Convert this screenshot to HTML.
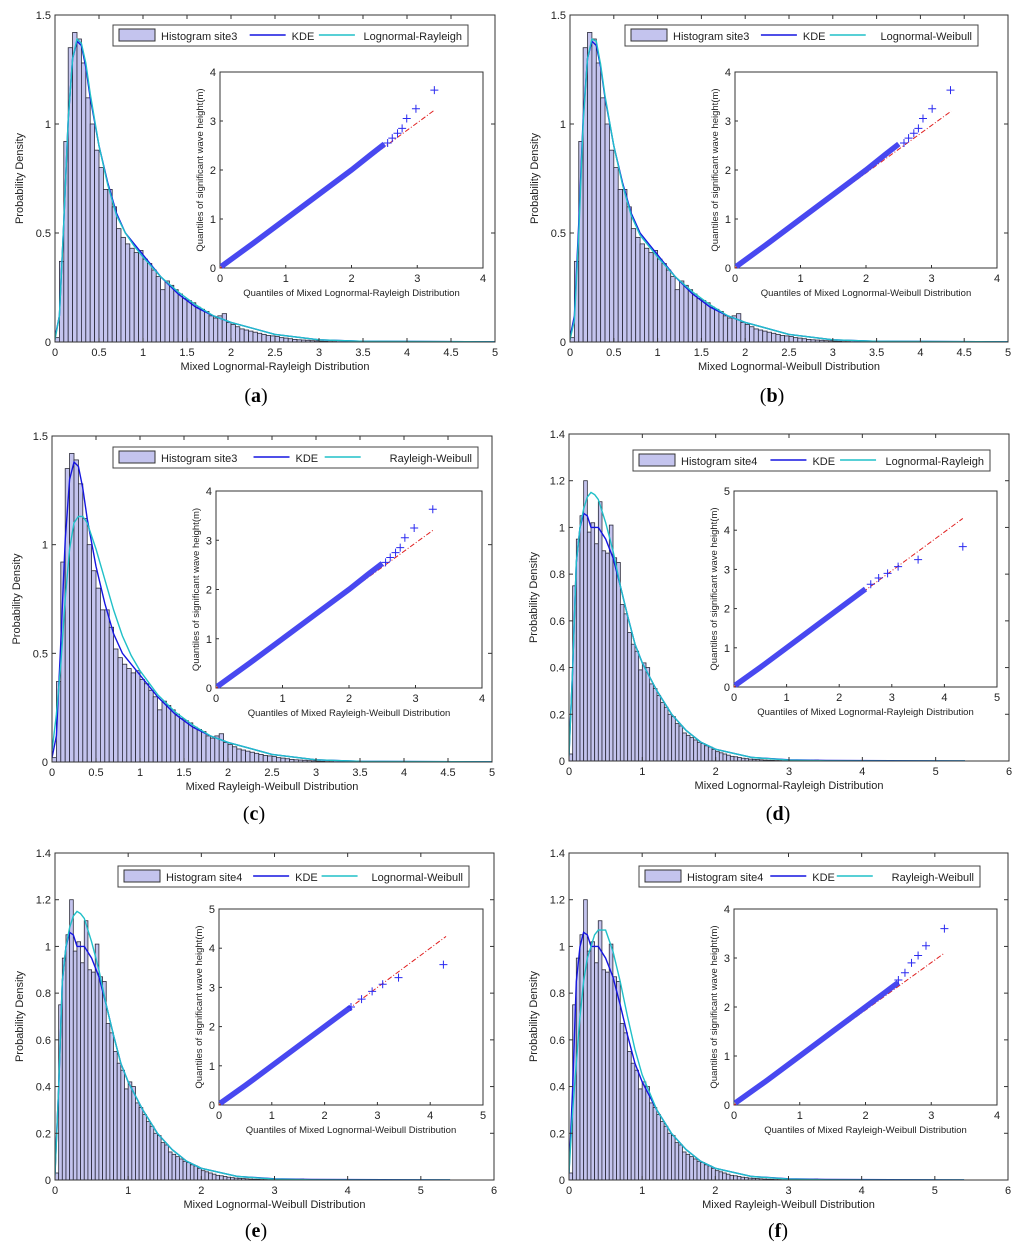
<!DOCTYPE html>
<html><head><meta charset="utf-8"><style>
html,body{margin:0;padding:0;background:#fff}
svg{display:block}
text{font-family:"Liberation Sans",sans-serif;fill:#222}
.cap{font-family:"Liberation Serif",serif;font-size:20px;fill:#000}
</style></head><body>
<svg id="fig" width="1024" height="1253" viewBox="0 0 1024 1253" xmlns="http://www.w3.org/2000/svg"></svg>
<script>
// ---- data ----
const binWidth = 0.05;
const histSite3 = [0.02,0.37,0.92,1.35,1.42,1.39,1.28,1.12,1.0,0.88,0.80,0.70,0.70,0.62,0.52,0.48,0.45,0.43,0.41,0.42,0.38,0.36,0.33,0.30,0.24,0.28,0.26,0.24,0.22,0.20,0.19,0.18,0.16,0.15,0.14,0.12,0.11,0.12,0.13,0.09,0.08,0.07,0.06,0.055,0.05,0.045,0.04,0.035,0.03,0.028,0.025,0.02,0.018,0.015,0.012,0.01,0.009,0.008,0.006,0.005,0.004,0.003,0.002,0.002,0.001,0.001,0.001,0.004,0.001];
const histSite4 = [0.03,0.75,0.95,1.05,1.2,0.98,1.02,0.93,1.11,0.90,0.89,1.01,0.87,0.85,0.67,0.63,0.55,0.50,0.47,0.39,0.42,0.40,0.33,0.31,0.28,0.25,0.23,0.20,0.19,0.16,0.15,0.12,0.11,0.10,0.09,0.08,0.075,0.065,0.06,0.05,0.04,0.035,0.03,0.025,0.02,0.018,0.015,0.012,0.01,0.008,0.007,0.006,0.005,0.004,0.003,0.003,0.002,0.002,0.001,0.001,0.001,0.001,0.001,0.001,0.001,0.001,0.001,0.004];
const curveX = [0,0.05,0.1,0.15,0.2,0.25,0.3,0.35,0.4,0.5,0.6,0.7,0.8,0.9,1.0,1.2,1.4,1.6,1.8,2.0,2.5,3.0,3.5,5.4];
const kde3 = [0.02,0.12,0.55,1.02,1.3,1.38,1.36,1.26,1.12,0.9,0.73,0.59,0.5,0.45,0.4,0.3,0.22,0.16,0.12,0.09,0.035,0.01,0.003,0];
const fitLR3 = [0.01,0.12,0.55,1.02,1.3,1.39,1.37,1.28,1.14,0.9,0.72,0.58,0.5,0.44,0.39,0.3,0.23,0.17,0.12,0.09,0.035,0.01,0.003,0];
const fitLW3 = [0.01,0.1,0.5,1.0,1.3,1.39,1.38,1.27,1.13,0.9,0.72,0.58,0.49,0.44,0.39,0.3,0.23,0.17,0.12,0.09,0.035,0.01,0.003,0];
const fitRW3 = [0.05,0.22,0.45,0.75,0.98,1.1,1.13,1.13,1.1,0.98,0.84,0.7,0.58,0.49,0.42,0.31,0.23,0.17,0.12,0.09,0.035,0.01,0.003,0];
const kde4 = [0.03,0.4,0.85,1.0,1.06,1.05,1.0,1.0,1.0,0.95,0.87,0.75,0.62,0.5,0.42,0.3,0.2,0.13,0.08,0.05,0.015,0.005,0.002,0];
const fitLR4 = [0.02,0.4,0.85,1.0,1.08,1.13,1.15,1.14,1.12,1.02,0.9,0.75,0.62,0.5,0.42,0.3,0.2,0.13,0.08,0.05,0.015,0.004,0.001,0];
const fitRW4 = [0.03,0.3,0.5,0.7,0.85,0.95,1.0,1.05,1.07,1.07,0.98,0.85,0.7,0.56,0.45,0.3,0.2,0.13,0.08,0.05,0.015,0.004,0.001,0];
const qqLineX = [0.02,0.5,1.0,1.5,2.0,2.3,2.5];
const qqLineY3 = [0.03,0.5,1.0,1.5,2.0,2.32,2.53];
const qqLineY4 = [0.04,0.5,1.0,1.5,2.0,2.3,2.5];
const qqTailXa = [2.55,2.62,2.7,2.77,2.84,2.98,3.26], qqTailYa = [2.55,2.65,2.75,2.85,3.05,3.25,3.63];
const qqTailXd = [2.6,2.75,2.92,3.12,3.5,4.35], qqTailYd = [2.62,2.78,2.9,3.07,3.25,3.58];
const qqTailXe = [2.5,2.7,2.9,3.1,3.4,4.25], qqTailYe = [2.5,2.7,2.9,3.08,3.25,3.58];
const qqTailXf = [2.5,2.6,2.7,2.8,2.92,3.2], qqTailYf = [2.55,2.7,2.9,3.05,3.25,3.6];

const panels = [
 {id:'a',hist:histSite3,site:'site3',fit:fitLR3,kde:kde3,fitName:'Lognormal-Rayleigh',dist:'Lognormal-Rayleigh',xmax:5,xstep:0.5,ymax:1.5,ystep:0.5,
  px:[55,495],py:[15,342],ix:[220,483],iy:[72,268],imax:4,leg:[113,468,25],cap:[256,402],lineY:qqLineY3,tx:qqTailXa,ty:qqTailYa,red:3.22,redx:3.26},
 {id:'b',hist:histSite3,site:'site3',fit:fitLW3,kde:kde3,fitName:'Lognormal-Weibull',dist:'Lognormal-Weibull',xmax:5,xstep:0.5,ymax:1.5,ystep:0.5,
  px:[570,1008],py:[15,342],ix:[735,997],iy:[72,268],imax:4,leg:[625,978,25],cap:[772,402],lineY:qqLineY3,tx:qqTailXa.map(v=>v+0.03),ty:qqTailYa,red:3.2,redx:3.3},
 {id:'c',hist:histSite3,site:'site3',fit:fitRW3,kde:kde3,fitName:'Rayleigh-Weibull',dist:'Rayleigh-Weibull',xmax:5,xstep:0.5,ymax:1.5,ystep:0.5,
  px:[52,492],py:[436,762],ix:[216,482],iy:[491,688],imax:4,leg:[113,478,447],cap:[254,820],lineY:qqLineY3,tx:qqTailXa,ty:qqTailYa,red:3.2,redx:3.26},
 {id:'d',hist:histSite4,site:'site4',fit:fitLR4,kde:kde4,fitName:'Lognormal-Rayleigh',dist:'Lognormal-Rayleigh',xmax:6,xstep:1,ymax:1.4,ystep:0.2,
  px:[569,1009],py:[434,761],ix:[734,997],iy:[491,687],imax:5,leg:[633,990,450],cap:[778,820],lineY:qqLineY4,tx:qqTailXd,ty:qqTailYd,red:4.3,redx:4.35},
 {id:'e',hist:histSite4,site:'site4',fit:fitLR4,kde:kde4,fitName:'Lognormal-Weibull',dist:'Lognormal-Weibull',xmax:6,xstep:1,ymax:1.4,ystep:0.2,
  px:[55,494],py:[853,1180],ix:[219,483],iy:[909,1105],imax:5,leg:[118,469,866],cap:[256,1237],lineY:qqLineY4,tx:qqTailXe,ty:qqTailYe,red:4.3,redx:4.3},
 {id:'f',hist:histSite4,site:'site4',fit:fitRW4,kde:kde4,fitName:'Rayleigh-Weibull',dist:'Rayleigh-Weibull',xmax:6,xstep:1,ymax:1.4,ystep:0.2,
  px:[569,1008],py:[853,1180],ix:[734,997],iy:[909,1105],imax:4,leg:[639,980,866],cap:[778,1237],lineY:qqLineY4,tx:qqTailXf,ty:qqTailYf,red:3.1,redx:3.2}
];

const NS='http://www.w3.org/2000/svg';
const fig=document.getElementById('fig');
function mk(tag,attrs,parent,txt){const e=document.createElementNS(NS,tag);for(const k in attrs)e.setAttribute(k,attrs[k]);if(txt!==undefined)e.textContent=txt;(parent||fig).appendChild(e);return e;}
function fmt(v){return (Math.round(v*10)/10).toString();}
const defs=mk('defs',{});

panels.forEach(p=>{
  const g=mk('g',{});
  
  
  const X=v=>p.px[0]+v/p.xmax*(p.px[1]-p.px[0]);
  const Y=v=>p.py[1]-v/p.ymax*(p.py[1]-p.py[0]);
  const cp=mk('clipPath',{id:'clip-'+p.id},defs);
  mk('rect',{x:p.px[0],y:p.py[0],width:p.px[1]-p.px[0],height:p.py[1]-p.py[0]},cp);
  const pg=mk('g',{'clip-path':'url(#clip-'+p.id+')'},g);
  // bars
  p.hist.forEach((h,i)=>{
    const b=mk('rect',{x:X(i*binWidth),y:Y(h),width:X(binWidth)-X(0),height:Y(0)-Y(h),fill:'#c4c4ee',stroke:'#2a2a3a','stroke-width':0.8},pg);
    
    
  });
  // curves
  const path=(arr,col,name)=>{const d=arr.map((v,i)=>(i?'L':'M')+X(curveX[i]).toFixed(1)+','+Y(v).toFixed(1)).join('');
    const e=mk('path',{d,fill:'none',stroke:col,'stroke-width':1.4},pg);
    
    };
  path(p.kde,'#1515e0','kde-curve');
  path(p.fit,'#20c0c8','fit-curve');
  // frame
  const fr=mk('rect',{x:p.px[0],y:p.py[0],width:p.px[1]-p.px[0],height:p.py[1]-p.py[0],fill:'none',stroke:'#333','stroke-width':1},g);
  
  
  // ticks
  for(let v=0;v<=p.xmax+1e-9;v+=p.xstep){
    mk('line',{x1:X(v),x2:X(v),y1:p.py[1],y2:p.py[1]-4,stroke:'#333'},g);
    mk('line',{x1:X(v),x2:X(v),y1:p.py[0],y2:p.py[0]+4,stroke:'#333'},g);
    const t=mk('text',{x:X(v),y:p.py[1]+14,'text-anchor':'middle','font-size':11},g,fmt(v));
    
    
  }
  for(let v=0;v<=p.ymax+1e-9;v+=p.ystep){
    mk('line',{x1:p.px[0],x2:p.px[0]+4,y1:Y(v),y2:Y(v),stroke:'#333'},g);
    mk('line',{x1:p.px[1],x2:p.px[1]-4,y1:Y(v),y2:Y(v),stroke:'#333'},g);
    const t=mk('text',{x:p.px[0]-4,y:Y(v)+4,'text-anchor':'end','font-size':11},g,fmt(v));
    
    
  }
  const xl=mk('text',{x:(p.px[0]+p.px[1])/2,y:p.py[1]+28,'text-anchor':'middle','font-size':11},g,'Mixed '+p.dist+' Distribution');
  
  
  const yc=(p.py[0]+p.py[1])/2;
  const yl=mk('text',{x:p.px[0]-32,y:yc,'text-anchor':'middle','font-size':11,transform:`rotate(-90 ${p.px[0]-32} ${yc})`},g,'Probability Density');
  
  
  // legend
  const L=p.leg,lw=L[1]-L[0];
  const lg=mk('g',{},g);
  
  
  mk('rect',{x:L[0],y:L[2],width:lw,height:21,fill:'#fff',stroke:'#444'},lg);
  mk('rect',{x:L[0]+6,y:L[2]+4,width:36,height:12,fill:'#c4c4ee',stroke:'#333'},lg);
  mk('text',{x:L[0]+48,y:L[2]+15,'font-size':11},lg,'Histogram '+p.site);
  const k0=L[0]+lw*0.385;
  mk('line',{x1:k0,x2:k0+36,y1:L[2]+10,y2:L[2]+10,stroke:'#1515e0','stroke-width':1.4},lg);
  mk('text',{x:k0+42,y:L[2]+15,'font-size':11},lg,'KDE');
  const f0=L[0]+lw*0.58;
  mk('line',{x1:f0,x2:f0+36,y1:L[2]+10,y2:L[2]+10,stroke:'#20c0c8','stroke-width':1.4},lg);
  mk('text',{x:L[1]-6,y:L[2]+15,'font-size':11,'text-anchor':'end'},lg,p.fitName);
  // inset
  const ig=mk('g',{},g);
  
  
  const IX=v=>p.ix[0]+v/p.imax*(p.ix[1]-p.ix[0]);
  const IY=v=>p.iy[1]-v/p.imax*(p.iy[1]-p.iy[0]);
  mk('rect',{x:p.ix[0],y:p.iy[0],width:p.ix[1]-p.ix[0],height:p.iy[1]-p.iy[0],fill:'#fff',stroke:'#333'},ig);
  for(let v=0;v<=p.imax;v++){
    mk('line',{x1:IX(v),x2:IX(v),y1:p.iy[1],y2:p.iy[1]-3,stroke:'#333'},ig);
    mk('line',{x1:p.ix[0],x2:p.ix[0]+3,y1:IY(v),y2:IY(v),stroke:'#333'},ig);
    mk('text',{x:IX(v),y:p.iy[1]+14,'text-anchor':'middle','font-size':11},ig,String(v));
    mk('text',{x:p.ix[0]-4,y:IY(v)+4,'text-anchor':'end','font-size':11},ig,String(v));
  }
  mk('text',{x:(p.ix[0]+p.ix[1])/2,y:p.iy[1]+28,'text-anchor':'middle','font-size':9.5},ig,'Quantiles of Mixed '+p.dist+' Distribution');
  const iyc=(p.iy[0]+p.iy[1])/2;
  mk('text',{x:p.ix[0]-17,y:iyc,'text-anchor':'middle','font-size':9.5,transform:`rotate(-90 ${p.ix[0]-17} ${iyc})`},ig,'Quantiles of significant wave height(m)');
  const rl=mk('line',{x1:IX(0),y1:IY(0),x2:IX(p.redx),y2:IY(p.red),stroke:'#e02020','stroke-width':1,'stroke-dasharray':'5 2 1 2'},ig);
  
  
  const d=qqLineX.map((v,i)=>(i?'L':'M')+IX(v).toFixed(1)+','+IY(p.lineY[i]).toFixed(1)).join('');
  const qb=mk('path',{d,fill:'none',stroke:'#4848f0','stroke-width':5.5},ig);
  
  
  p.tx.forEach((v,i)=>{
    const cx=IX(v),cy=IY(p.ty[i]);
    const m=mk('path',{d:`M${cx-4},${cy}L${cx+4},${cy}M${cx},${cy-4}L${cx},${cy+4}`,stroke:'#2a2af0','stroke-width':1},ig);
    
    
  });
  // caption
  const c=mk('text',{x:p.cap[0],y:p.cap[1],'text-anchor':'middle',class:'cap'},g);
  
  
  mk('tspan',{},c,'(');mk('tspan',{'font-weight':'bold'},c,p.id);mk('tspan',{},c,')');
});
</script>
</body></html>
